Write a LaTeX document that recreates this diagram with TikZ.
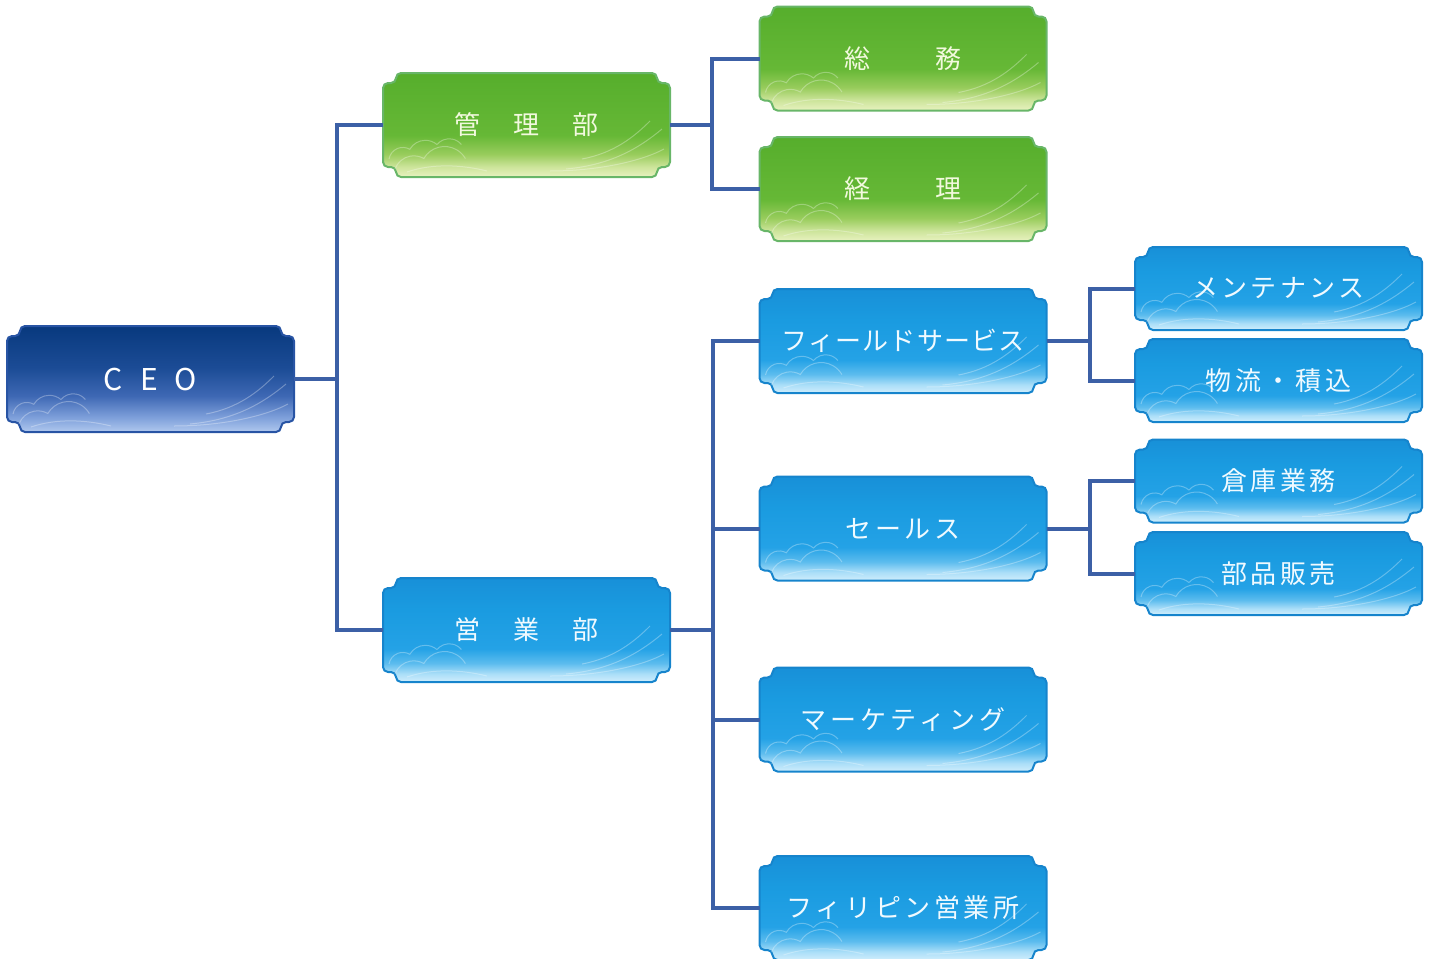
\documentclass[tikz,border=0pt]{standalone}
\usepackage{fontspec}
\newfontfamily\jp{Noto Sans CJK JP}
\usetikzlibrary{backgrounds,calc}
\ExplSyntaxOn
\NewDocumentCommand\lsp{m m}{\kern-#1\relax\tl_map_inline:nn{#2}{\kern#1\relax ##1}}
\ExplSyntaxOff
\definecolor{connc}{RGB}{60,96,166}
\definecolor{navyb}{RGB}{40,84,164}
\definecolor{greenb}{RGB}{104,182,104}
\definecolor{blueb}{RGB}{22,132,204}
\definecolor{greent}{RGB}{242,249,222}
\definecolor{bluet}{RGB}{240,250,255}
\definecolor{blA}{RGB}{208,238,252}
\definecolor{blB}{RGB}{170,222,248}
\definecolor{blC}{RGB}{92,188,238}
\definecolor{blD}{RGB}{36,162,230}
\definecolor{blE}{RGB}{26,155,224}
\definecolor{blF}{RGB}{24,144,216}
\definecolor{grA}{RGB}{232,242,192}
\definecolor{grB}{RGB}{204,228,154}
\definecolor{grC}{RGB}{152,204,92}
\definecolor{grD}{RGB}{102,184,54}
\definecolor{grE}{RGB}{86,174,44}
\definecolor{nvA}{RGB}{176,200,238}
\definecolor{nvB}{RGB}{125,159,218}
\definecolor{nvC}{RGB}{62,104,180}
\definecolor{nvD}{RGB}{28,76,150}
\definecolor{nvE}{RGB}{8,57,126}
\pgfdeclareverticalshading{bluesh}{100bp}{color(0bp)=(blA); color(25bp)=(blA); color(29bp)=(blB); color(34bp)=(blC); color(41bp)=(blD); color(60bp)=(blE); color(75bp)=(blF); color(100bp)=(blF)}
\pgfdeclareverticalshading{greensh}{100bp}{color(0bp)=(grA); color(25bp)=(grA); color(30bp)=(grB); color(36bp)=(grC); color(45bp)=(grD); color(75bp)=(grE); color(100bp)=(grE)}
\pgfdeclareverticalshading{navysh}{100bp}{color(0bp)=(nvA); color(25bp)=(nvA); color(32bp)=(nvB); color(42bp)=(nvC); color(55bp)=(nvD); color(75bp)=(nvE); color(100bp)=(nvE)}
\tikzset{
  box/.style={inner sep=0pt, outer sep=0pt, minimum width=143.5pt, minimum height=52pt,
    font=\jp\fontsize{13pt}{15pt}\selectfont},
  gbox/.style={box, text=greent},
  bbox/.style={box, text=bluet},
  sbox/.style={bbox, minimum height=41.5pt},
  conn/.style={draw=connc, line width=2pt},
  cloudline/.style={draw=white, opacity=0.3, line width=0.5pt},
}
\newcommand\plaque[3]{%
  \path[shade, shading=#2, draw=#3, line width=1pt, rounded corners=2.5pt]
    ([xshift=6.5pt]#1.north west) -- ([xshift=-6.5pt]#1.north east)
    -- ([xshift=-6.5pt,yshift=-5pt]#1.north east) -- ([yshift=-5pt]#1.north east)
    -- ([yshift=5pt]#1.south east) -- ([xshift=-6.5pt,yshift=5pt]#1.south east)
    -- ([xshift=-6.5pt]#1.south east) -- ([xshift=6.5pt]#1.south west)
    -- ([xshift=6.5pt,yshift=5pt]#1.south west) -- ([yshift=5pt]#1.south west)
    -- ([yshift=-5pt]#1.north west) -- ([xshift=6.5pt,yshift=-5pt]#1.north west) -- cycle;
  \draw[cloudline] ($(#1.south west)+(3pt,9pt)$) arc[start angle=170,end angle=60,radius=7pt]
     arc[start angle=150,end angle=50,radius=9pt] arc[start angle=140,end angle=40,radius=8pt];
  \draw[cloudline] ($(#1.south west)+(6pt,4pt)$) arc[start angle=160,end angle=60,radius=10pt]
     arc[start angle=150,end angle=30,radius=12pt];
  \draw[cloudline] ($(#1.south west)+(12pt,2.5pt)$) .. controls ($(#1.south west)+(25pt,7pt)$) and ($(#1.south west)+(40pt,6pt)$) .. ($(#1.south west)+(52pt,3pt)$);
  \draw[cloudline] ($(#1.south east)+(-52pt,4pt)$) .. controls ($(#1.south east)+(-30pt,6pt)$) and ($(#1.south east)+(-16pt,14pt)$) .. ($(#1.south east)+(-4pt,24pt)$);
  \draw[cloudline] ($(#1.south east)+(-44pt,9pt)$) .. controls ($(#1.south east)+(-28pt,12pt)$) and ($(#1.south east)+(-18pt,20pt)$) .. ($(#1.south east)+(-10pt,28pt)$);
  \draw[cloudline] ($(#1.south east)+(-60pt,3pt)$) .. controls ($(#1.south east)+(-36pt,3pt)$) and ($(#1.south east)+(-14pt,8pt)$) .. ($(#1.south east)+(-3pt,14pt)$);
}
\begin{document}
\begin{tikzpicture}[x=0.5pt,y=-0.5pt]
\useasboundingbox (0,0) rectangle (1434,958);
% nodes
\node[bbox, text=white, minimum height=53pt, font=\jp\fontsize{15pt}{17pt}\selectfont] (ceo) at (150.5,379) {\lsp{8.5pt}{CEO}};
\node[gbox] (kanri) at (526.5,125) {\lsp{16.5pt}{管理部}};
\node[bbox] (eigyo) at (526.5,630) {\lsp{16.5pt}{営業部}};
\node[gbox] (soumu) at (903,58.5) {\lsp{32.5pt}{総務}};
\node[gbox] (keiri) at (903,189) {\lsp{32.5pt}{経理}};
\node[bbox] (field) at (903,341) {\lsp{0.6pt}{フィールドサービス}};
\node[bbox] (sales) at (903,528.5) {\lsp{1.7pt}{セールス}};
\node[bbox] (marke) at (903,719.5) {\lsp{1.9pt}{マーケティング}};
\node[bbox] (phil) at (903,908) {\lsp{1.8pt}{フィリピン営業所}};
\node[sbox] (mainte) at (1278.5,288.5) {\lsp{1.7pt}{メンテナンス}};
\node[sbox] (butsu) at (1278.5,380.5) {\lsp{2pt}{物流・積込}};
\node[sbox] (souko) at (1278.5,481) {\lsp{1.8pt}{倉庫業務}};
\node[sbox] (buhin) at (1278.5,573.5) {\lsp{1.8pt}{部品販売}};
\begin{scope}[on background layer]
\plaque{ceo}{navysh}{navyb}
\plaque{kanri}{greensh}{greenb}
\plaque{soumu}{greensh}{greenb}
\plaque{keiri}{greensh}{greenb}
\plaque{eigyo}{bluesh}{blueb}
\plaque{field}{bluesh}{blueb}
\plaque{sales}{bluesh}{blueb}
\plaque{marke}{bluesh}{blueb}
\plaque{phil}{bluesh}{blueb}
\plaque{mainte}{bluesh}{blueb}
\plaque{butsu}{bluesh}{blueb}
\plaque{souko}{bluesh}{blueb}
\plaque{buhin}{bluesh}{blueb}
\end{scope}
% connectors
\draw[conn] (ceo.east) -- ++(21.5pt,0) coordinate (j1);
\draw[conn] (kanri.west) -| (j1) |- (eigyo.west);
\draw[conn] (kanri.east) -- ++(21pt,0) coordinate (j2);
\draw[conn] (soumu.west) -| (j2) |- (keiri.west);
\draw[conn] (eigyo.east) -- ++(21.5pt,0) coordinate (j3);
\draw[conn] (field.west) -| (j3) |- (phil.west);
\draw[conn] (sales.west) -- (sales.west -| j3);
\draw[conn] (marke.west) -- (marke.west -| j3);
\draw[conn] (field.east) -- ++(21.5pt,0) coordinate (j4);
\draw[conn] (mainte.west) -| (j4) |- (butsu.west);
\draw[conn] (sales.east) -- ++(21.5pt,0) coordinate (j5);
\draw[conn] (souko.west) -| (j5) |- (buhin.west);
\end{tikzpicture}
\end{document}
